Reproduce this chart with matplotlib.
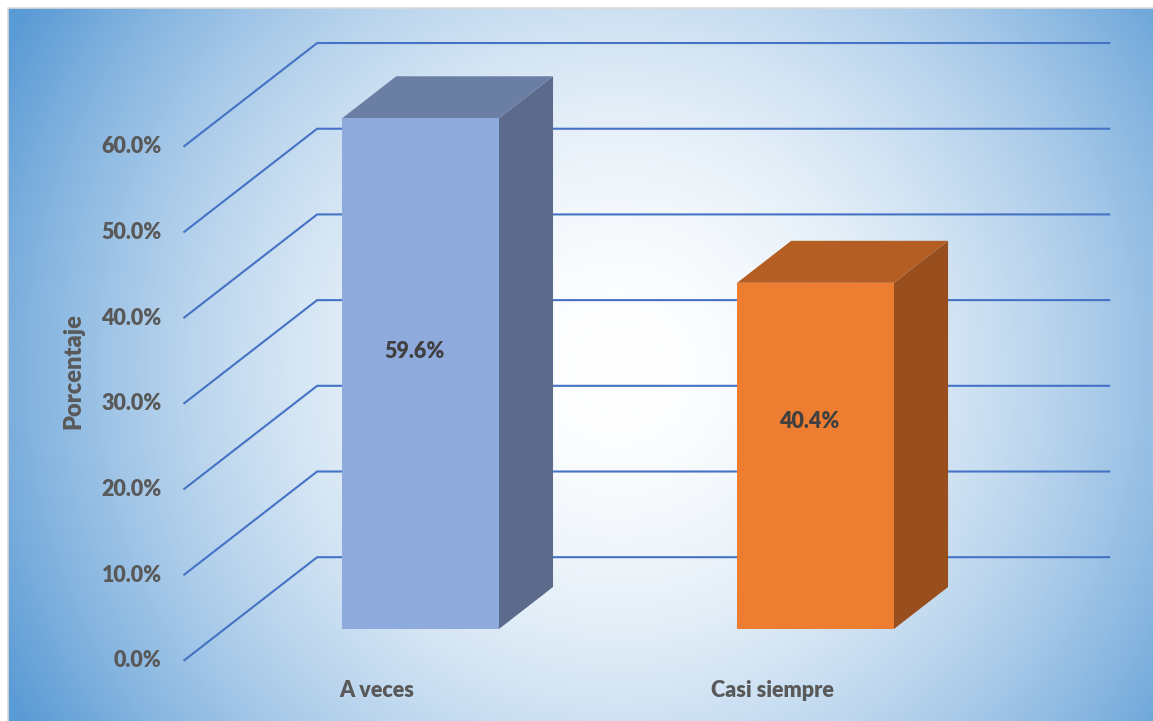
import matplotlib.pyplot as plt
import numpy as np
from matplotlib.patches import Polygon, Rectangle

# Datos
categorias = ['A veces', 'Casi siempre']
porcentajes = [59.6, 40.4]
ticks = [0, 10, 20, 30, 40, 50, 60]
tick_labels = ['0.0%', '10.0%', '20.0%', '30.0%', '40.0%', '50.0%', '60.0%']

col_frente = ['#8FAADC', '#ED7D31']
col_tapa = ['#6B7FA5', '#B55E23']
col_lado = ['#5C6B8B', '#994E1E']

FUENTE = dict(family='Lato', fontweight='heavy', fontsize=15.5)

W, H = 1153, 721
fig = plt.figure(figsize=(W / 100, H / 100), dpi=100)

# Fondo con degradado radial
bg = fig.add_axes([8 / W, 0, 1 - 8 / W, 1 - 8 / H])
yy, xx = np.mgrid[0:713, 0:1145]
cx, cy = 610, 360
r = np.sqrt((xx - cx) ** 2 + (yy - cy) ** 2)
r = np.clip(r / 690, 0, 1)
c0 = np.array([1.0, 1.0, 1.0])
c1 = np.array([91, 155, 213]) / 255
img = c0 + (c1 - c0) * r[..., None] ** 1.8
bg.imshow(img, aspect='auto', interpolation='bilinear')
bg.axis('off')
fig.add_artist(Rectangle((7.5 / W, -0.01), 1.1, 1 - 7.5 / H + 0.01, transform=fig.transFigure,
                         fill=False, edgecolor='#D9D9D9', linewidth=1.2))

# Ejes principales (x: categoria, y: porcentaje)
ax = fig.add_axes([0, 0, 1, 1])
ax.patch.set_alpha(0)
ax.set_xlim(-1.0646, 1.8544)
ax.set_ylim(-10.735, 73.4)
ax.axis('off')

DX, DY = 0.137, 4.9   # desplazamiento de profundidad
ancho = 0.397


def proy(c, v, t):
    return c + t * DX, v + t * DY


# Lineas de cuadricula (pared trasera en perspectiva)
x_pared = -0.496
x_fin = 1.512
for v in ticks:
    p0 = proy(x_pared, v, -0.76)
    p1 = proy(x_pared, v, 1.71)
    p2 = proy(x_fin, v, 1.71)
    ax.plot([p0[0], p1[0], p2[0]], [p0[1], p1[1], p2[1]], color='#4472C4', linewidth=1.5,
            solid_capstyle='butt', zorder=1)

for v, lab in zip(ticks, tick_labels):
    x0, y0 = proy(x_pared, v, -0.76)
    ax.text(x0 - 0.055, y0, lab, ha='right', va='center', color='#595959', **FUENTE)

ax.text(-0.88, 30.1, 'Porcentaje', rotation=90, ha='center', va='center', color='#595959',
        family='Lato', fontweight='heavy', fontsize=17)

# Barras 3D
for i, (cat, val) in enumerate(zip(categorias, porcentajes)):
    x0, x1 = i - ancho / 2, i + ancho / 2
    frente = [(x0, 0), (x1, 0), (x1, val), (x0, val)]
    tapa = [(x0, val), (x1, val), proy(x1, val, 1), proy(x0, val, 1)]
    lado = [(x1, 0), proy(x1, 0, 1), proy(x1, val, 1), (x1, val)]
    ax.add_patch(Polygon(lado, closed=True, facecolor=col_lado[i], edgecolor='none', zorder=3))
    ax.add_patch(Polygon(tapa, closed=True, facecolor=col_tapa[i], edgecolor='none', zorder=3))
    ax.add_patch(Polygon(frente, closed=True, facecolor=col_frente[i], edgecolor='none', zorder=4))
    ax.text(i - 0.015, val / 2 + 2.5 + (60 - val) * 0.08, f'{val:.1f}%', ha='center', va='center',
            color='#404040', zorder=5, **FUENTE)
    ax.text(i - 0.11, -7.2, cat, ha='center', va='center', color='#595959', **FUENTE)

fig.savefig('out.png', dpi=100)
